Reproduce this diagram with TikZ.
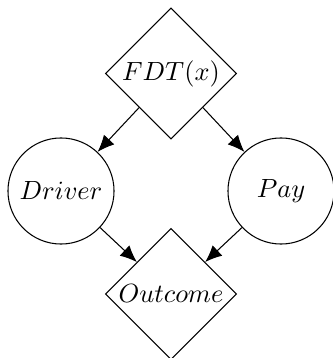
\documentclass[tikz,border=0pt]{standalone}
\usetikzlibrary{shapes.geometric,arrows.meta}
\begin{document}
\begin{tikzpicture}[x=0.38pt,y=-0.38pt,
  decision/.style={draw,diamond,aspect=1,inner sep=0pt,minimum width=49.8pt,minimum height=49.8pt,line width=0.4pt},
  chance/.style={draw,circle,inner sep=0pt,minimum size=40.3pt,line width=0.4pt},
  link/.style={-{Latex[length=6.4pt,width=5.4pt]},line width=0.4pt}]
\useasboundingbox (0,0) rectangle (332,358);
\node[decision] (fdt) at (171,73.5) {$FDT(x)$};
\node[chance] (driver) at (61,191) {$Driver$};
\node[chance] (pay) at (281,191) {$Pay$};
\node[decision] (out) at (171,294) {$Outcome$};
\draw[link] (fdt) -- (driver);
\draw[link] (fdt) -- (pay);
\draw[link] (driver) -- (out);
\draw[link] (pay) -- (out);
\end{tikzpicture}
\end{document}
